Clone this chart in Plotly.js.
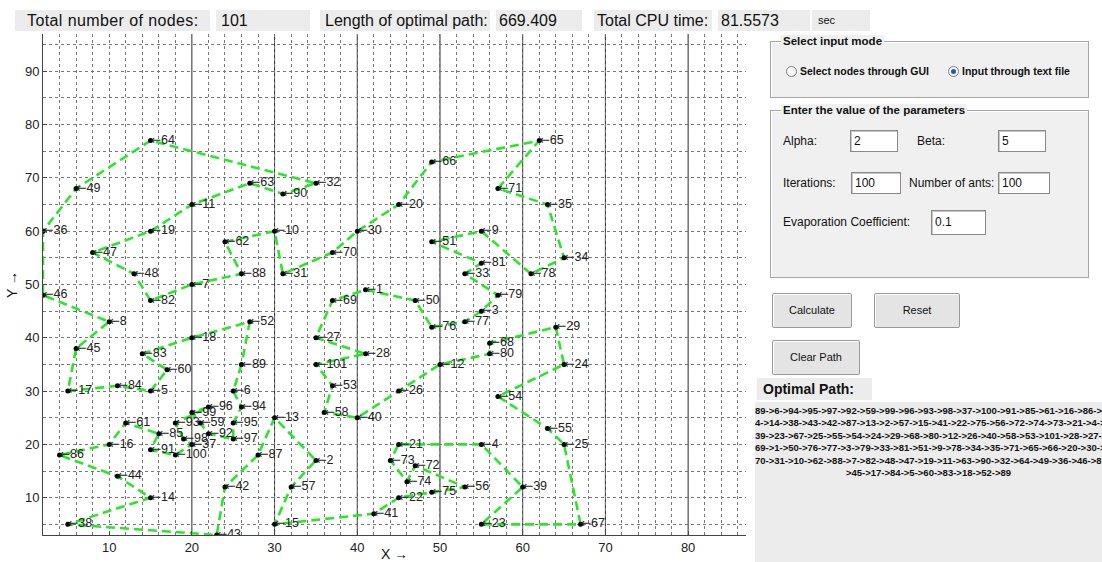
<!DOCTYPE html>
<html><head><meta charset="utf-8">
<script src="https://cdn.plot.ly/plotly-3.0.1.min.js"></script>
<style>
body{margin:0;background:#fff;font-family:"Liberation Sans",Arial,sans-serif;}
#wrap{position:relative;width:1102px;height:562px;overflow:hidden;background:#fff;}
#plot{position:absolute;left:0;top:0;width:1102px;height:562px;}
.abs{position:absolute;white-space:nowrap;}
.hbox{position:absolute;background:#ececec;color:#111;font-size:16px;line-height:21px;white-space:nowrap;height:21px;}
.panel{position:absolute;background:#f0f0f0;border:1px solid #a6a6a6;box-shadow:inset 1px 1px 0 #fff, 1px 1px 0 #fff;}
.ptitle{position:absolute;background:#f0f0f0;font-weight:bold;font-size:11.5px;color:#111;padding:0 2px;line-height:13px;}
.lbl{position:absolute;font-size:12px;color:#111;white-space:nowrap;line-height:14px;}
.inp{position:absolute;background:#fff;border:1px solid #8a8a8a;box-shadow:inset 1px 1px 0 #c8c8c8;font-size:12px;line-height:20px;padding-left:3px;box-sizing:border-box;color:#111;}
.btn{position:absolute;background:#e4e4e4;border:1px solid #9a9a9a;border-radius:2px;box-shadow:inset 1px 1px 0 #fff;font-size:11px;color:#111;text-align:center;box-sizing:border-box;}
.radio{position:absolute;width:11px;height:11px;border-radius:50%;border:1px solid #7a7a7a;background:#fafafa;box-sizing:border-box;}
.rlbl{position:absolute;font-size:10.5px;font-weight:bold;color:#111;white-space:nowrap;line-height:12px;}
#pathbox{position:absolute;left:755px;top:402px;width:347px;height:160px;background:#ececec;overflow:hidden;}
.pline{width:347px;text-align:center;white-space:pre;overflow:hidden;font-weight:bold;font-size:9.5px;line-height:12.4px;color:#111;}
</style></head>
<body>
<div id="wrap">
<div id="plot"></div>

<div class="hbox" style="left:15px;top:10px;width:195px;padding-left:12px;box-sizing:border-box;letter-spacing:0.4px;">Total number of nodes:</div>
<div class="hbox" style="left:216px;top:10px;width:94px;padding-left:5px;box-sizing:border-box;" id="nNodes"></div>
<div class="hbox" style="left:320px;top:10px;width:170px;padding-left:5px;box-sizing:border-box;">Length of optimal path:</div>
<div class="hbox" style="left:496px;top:10px;width:86px;padding-left:3px;box-sizing:border-box;" id="lenBox"></div>
<div class="hbox" style="left:594px;top:10px;width:118px;padding-left:3px;box-sizing:border-box;">Total CPU time:</div>
<div class="hbox" style="left:718px;top:10px;width:92px;padding-left:3px;box-sizing:border-box;" id="cpuBox"></div>
<div class="hbox" style="left:812px;top:10px;width:58px;padding-left:6px;box-sizing:border-box;font-size:11px;">sec</div>

<div class="panel" style="left:770px;top:41px;width:317px;height:55px;"></div>
<div class="ptitle" style="left:781px;top:35px;">Select input mode</div>
<div class="radio" style="left:786px;top:66px;"></div>
<div class="rlbl" style="left:800px;top:65px;">Select nodes through GUI</div>
<div class="radio" style="left:948px;top:66px;"><div style="position:absolute;left:2px;top:2px;width:5px;height:5px;border-radius:50%;background:#1a5fb4;"></div></div>
<div class="rlbl" style="left:962px;top:65px;">Input through text file</div>

<div class="panel" style="left:770px;top:110px;width:317px;height:166px;"></div>
<div class="ptitle" style="left:781px;top:104px;">Enter the value of the parameters</div>
<div class="lbl" style="left:783px;top:134px;">Alpha:</div>
<div class="inp" style="left:850px;top:130px;width:48px;height:22px;" id="alphaBox"></div>
<div class="lbl" style="left:917px;top:134px;">Beta:</div>
<div class="inp" style="left:998px;top:130px;width:48px;height:22px;" id="betaBox"></div>
<div class="lbl" style="left:783px;top:176px;">Iterations:</div>
<div class="inp" style="left:851px;top:172px;width:50px;height:22px;" id="iterBox"></div>
<div class="lbl" style="left:909px;top:176px;">Number of ants:</div>
<div class="inp" style="left:998px;top:172px;width:52px;height:22px;" id="antsBox"></div>
<div class="lbl" style="left:783px;top:215px;">Evaporation Coefficient:</div>
<div class="inp" style="left:931px;top:210px;width:55px;height:25px;line-height:23px;" id="evapBox"></div>

<div class="btn" style="left:772px;top:293px;width:80px;height:35px;line-height:33px;">Calculate</div>
<div class="btn" style="left:874px;top:293px;width:86px;height:35px;line-height:33px;">Reset</div>
<div class="btn" style="left:772px;top:340px;width:88px;height:35px;line-height:33px;">Clear Path</div>

<div class="abs" style="left:757px;top:378px;width:115px;height:22px;background:#ececec;font-weight:bold;font-size:14px;line-height:22px;padding-left:6px;box-sizing:border-box;color:#111;">Optimal Path:</div>
<div id="pathbox"></div>
</div>

<script>
// ---- data ----
const nodeX = [41,35,55,55,15,25,20,10,55,30,20,50,30,15,30,10,5,20,15,45,
               45,45,55,65,65,45,35,41,64,40,31,35,53,65,63,2,20,5,60,40,
               42,24,23,11,6,2,8,13,6,47,49,27,37,57,63,53,32,36,21,17,
               12,24,27,15,62,49,67,56,37,37,57,47,44,46,49,49,53,61,57,56,
               55,15,14,11,16,4,28,26,26,31,15,22,18,26,25,22,25,19,20,18,
               35];
const nodeY = [49,17,45,20,30,30,50,43,60,60,65,35,25,10,5,20,30,40,60,65,
               20,10,5,35,20,30,40,37,42,60,52,69,52,55,65,60,20,5,12,25,
               7,12,3,14,38,48,56,52,68,47,58,43,31,29,23,12,12,26,24,34,
               24,58,69,77,77,73,5,39,47,56,68,16,17,13,11,42,43,52,48,37,
               54,47,37,31,22,18,18,52,35,67,19,22,24,27,24,27,21,21,26,18,
               35];
const tour = [89,6,94,95,97,92,59,99,96,93,98,37,100,91,85,61,16,86,44,14,
              38,43,42,87,13,2,57,15,41,22,75,56,72,74,73,21,4,39,23,67,
              25,55,54,24,29,68,80,12,26,40,58,53,101,28,27,69,1,50,76,77,
              3,79,33,81,51,9,78,34,35,71,65,66,20,30,70,31,10,62,88,7,
              82,48,47,19,11,63,90,32,64,49,36,46,8,45,17,84,5,60,83,18,
              52,89];
const totalNodes = 101;
const pathLength = "669.409";
const cpuTime = "81.5573";
const paramAlpha = "2", paramBeta = "5", paramIter = "100", paramAnts = "100", paramEvap = "0.1";
const xTicks = [10,20,30,40,50,60,70,80];
const yTicks = [10,20,30,40,50,60,70,80,90];
const solidLinesX = [20,30,40,50,60,70,80];

// ---- GUI texts ----
document.getElementById('nNodes').textContent = String(totalNodes);
document.getElementById('lenBox').textContent = pathLength;
document.getElementById('cpuBox').textContent = cpuTime;
document.getElementById('alphaBox').textContent = paramAlpha;
document.getElementById('betaBox').textContent = paramBeta;
document.getElementById('iterBox').textContent = paramIter;
document.getElementById('antsBox').textContent = paramAnts;
document.getElementById('evapBox').textContent = paramEvap;

const fullPath = tour.join('->');
const pb = document.getElementById('pathbox');
const pad = document.createElement('div'); pad.style.height='3px'; pb.appendChild(pad);
for (let i = 0; i < fullPath.length; i += 73) {
  const d = document.createElement('div');
  d.className = 'pline';
  d.textContent = fullPath.slice(i, i + 73);
  pb.appendChild(d);
}

// ---- plot ----
const ids = nodeX.map((_, i) => i + 1);
const tx = tour.map(n => nodeX[n - 1]);
const ty = tour.map(n => nodeY[n - 1]);
const FONT = '"Liberation Sans", Arial, "DejaVu Sans", sans-serif';

const traces = [
  {x: tx, y: ty, mode: 'lines', type: 'scatter', hoverinfo: 'skip',
   line: {color: '#2ae62a', width: 2.6, dash: '9px,5px'}},
  {x: nodeX, y: nodeY, mode: 'markers', type: 'scatter', hoverinfo: 'skip',
   marker: {color: '#000', size: 5}},
  {x: nodeX, y: nodeY, mode: 'text', type: 'scatter', hoverinfo: 'skip',
   text: ids.map(i => '<span style="font-family:\'DejaVu Sans\'">\u2190</span>' + i),
   textposition: 'middle right',
   textfont: {family: FONT, size: 12.5, color: '#222'}}
];

const gridCommon = {gridcolor: '#777', griddash: 'dot', gridwidth: 1};
const layout = {
  width: 1102, height: 562,
  margin: {l: 43, r: 356, t: 34, b: 27},
  paper_bgcolor: 'rgba(0,0,0,0)', plot_bgcolor: '#fff',
  showlegend: false,
  font: {family: FONT, color: '#222'},
  xaxis: Object.assign({
    range: [2, 87], tickvals: xTicks, showgrid: true, zeroline: false,
    showline: true, linecolor: '#444', linewidth: 1,
    ticks: 'inside', ticklen: 4, tickcolor: '#444',
    tickfont: {family: FONT, size: 13, color: '#222'},
    minor: Object.assign({dtick: 2, tick0: 0, showgrid: true, ticks: ''}, gridCommon),
    title: {text: 'X \u2192', standoff: 4, font: {family: FONT, size: 14, color: '#111'}},
    automargin: false, fixedrange: true
  }, gridCommon),
  yaxis: Object.assign({
    range: [3, 97], tickvals: yTicks, showgrid: true, zeroline: false,
    showline: true, linecolor: '#444', linewidth: 1,
    ticks: 'inside', ticklen: 4, tickcolor: '#444',
    tickfont: {family: FONT, size: 13, color: '#222'},
    minor: Object.assign({dtick: 5, tick0: 0, showgrid: true, ticks: ''}, gridCommon),
    title: {text: 'Y \u2192', standoff: 4, font: {family: FONT, size: 14, color: '#111'}},
    automargin: false, fixedrange: true
  }, gridCommon),
  shapes: solidLinesX.map(v => ({type: 'line', xref: 'x', yref: 'paper', x0: v, x1: v, y0: 0, y1: 1,
    line: {color: '#2a2a2a', width: 1}, layer: 'below'}))
};

Plotly.newPlot('plot', traces, layout, {staticPlot: true, displayModeBar: false});
</script>
</body></html>
